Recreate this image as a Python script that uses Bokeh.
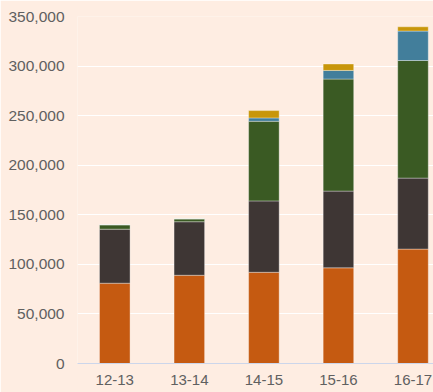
from bokeh.plotting import figure
from bokeh.models import Range1d, FixedTicker, NumeralTickFormatter, ColumnDataSource
from bokeh.embed import file_html
from bokeh.resources import INLINE

# Fiscal years and the five stacked components
years = ["12-13", "13-14", "14-15", "15-16", "16-17"]
part_a = [81000, 89000, 92000, 96500, 115400]
part_b = [54500, 54000, 72000, 77400, 71600]
part_c = [4500, 3000, 80300, 113000, 118600]
part_d = [0, 0, 3400, 8700, 29700]
part_e = [0, 0, 7400, 6500, 4300]

parts = ["part_a", "part_b", "part_c", "part_d", "part_e"]
colors = ["#C55A11", "#3E3634", "#3A5A23", "#427E9B", "#C8960A"]

src = ColumnDataSource(dict(
    x=list(range(len(years))),
    part_a=part_a, part_b=part_b, part_c=part_c, part_d=part_d, part_e=part_e,
))

bg = "#FEEDE2"
p = figure(
    width=433, height=392,
    x_range=Range1d(-0.5, 4.275), y_range=Range1d(0, 350000),
    output_backend="svg", toolbar_location=None,
    background_fill_color=bg, border_fill_color=bg,
    min_border_left=77, min_border_right=0, min_border_top=16, min_border_bottom=29,
)
p.outline_line_color = None

p.vbar_stack(parts, x="x", width=0.41, source=src, fill_color=colors,
             line_color="white", line_alpha=0.35, line_width=1)

# y axis
p.yaxis.ticker = FixedTicker(ticks=[0, 50000, 100000, 150000, 200000, 250000, 300000, 350000])
p.yaxis.formatter = NumeralTickFormatter(format="0,0")
p.yaxis.axis_line_color = None
p.yaxis.major_tick_line_color = None
p.yaxis.minor_tick_line_color = None
p.yaxis.major_tick_out = 0
p.yaxis.major_label_standoff = 13
p.yaxis.major_label_text_font = "Liberation Sans"
p.yaxis.major_label_text_font_size = "15.5px"
p.yaxis.major_label_text_color = "#606060"

# x axis
p.xaxis.ticker = FixedTicker(ticks=list(range(len(years))))
p.xaxis.major_label_overrides = {i: y for i, y in enumerate(years)}
p.xaxis.axis_line_color = "#CCD6EB"
p.xaxis.axis_line_width = 1
p.xaxis.major_tick_line_color = None
p.xaxis.minor_tick_line_color = None
p.xaxis.major_tick_out = 0
p.xaxis.major_label_standoff = 11
p.xaxis.major_label_text_font = "Liberation Sans"
p.xaxis.major_label_text_font_size = "15px"
p.xaxis.major_label_text_color = "#606060"

p.xgrid.grid_line_color = None
p.ygrid.grid_line_color = "white"
p.ygrid.grid_line_width = 1

open("out.html", "w").write(file_html(p, INLINE))
